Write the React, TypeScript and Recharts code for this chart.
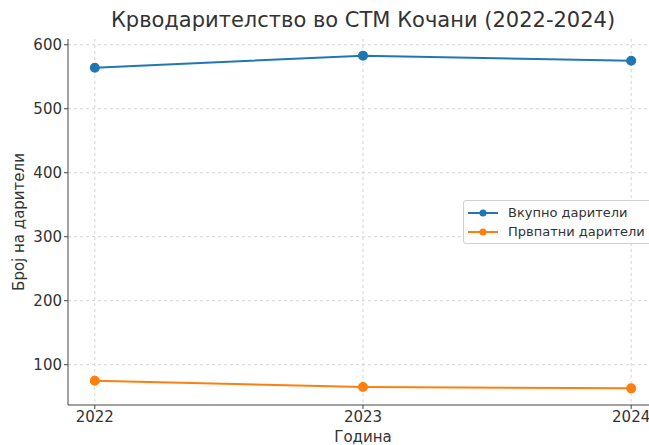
import React from 'react';
import { LineChart, Line, XAxis, YAxis, CartesianGrid } from 'recharts';

const years = [2022, 2023, 2024];
const totalDonors = [564, 583, 575];
const firstTimeDonors = [75, 65, 63];
const yTicks = [100, 200, 300, 400, 500, 600];
const seriesNames = ['Вкупно дарители', 'Првпатни дарители'];

const data = years.map((y, i) => ({ year: y, total: totalDonors[i], first: firstTimeDonors[i] }));

const FONT = '"DejaVu Sans", sans-serif';
const BLUE = '#1f77b4';
const ORANGE = '#ff7f0e';
const colors = [BLUE, ORANGE];

const LegendBox = () => (
  <div
    style={{
      position: 'absolute',
      left: 463,
      top: 200,
      border: '1px solid #d0d0d0',
      borderRadius: 3,
      background: 'rgba(255,255,255,0.85)',
      padding: '2px 8px 2px 4px',
      fontFamily: FONT,
      fontSize: 13,
      color: '#333',
      width: 178,
      whiteSpace: 'nowrap',
    }}
  >
    {seriesNames.map((name, i) => (
      <div key={name} style={{ display: 'flex', alignItems: 'center', height: 19 }}>
        <svg width={36} height={12} style={{ marginRight: 4 }}>
          <line x1={0} y1={6} x2={30} y2={6} stroke={colors[i]} strokeWidth={2} />
          <circle cx={15} cy={6} r={3.5} fill={colors[i]} />
        </svg>
        <span>{name}</span>
      </div>
    ))}
  </div>
);

export default function App() {
  return (
    <div style={{ position: 'absolute', left: 0, top: 0, width: 649, height: 445, overflow: 'hidden', background: '#fff' }}>
      <div
        style={{
          position: 'absolute',
          left: 0,
          width: 726,
          top: 8,
          textAlign: 'center',
          fontFamily: FONT,
          fontSize: 21,
          color: '#333',
          whiteSpace: 'nowrap',
        }}
      >
        Крводарителство во СТМ Кочани (2022-2024)
      </div>
      <LineChart
        width={670}
        height={445}
        data={data}
        margin={{ top: 39, right: 12, bottom: 0, left: 8 }}
        style={{ fontFamily: FONT }}
      >
        <CartesianGrid stroke="#d5d5d5" strokeDasharray="3 3" syncWithTicks />
        <XAxis
          dataKey="year"
          type="number"
          domain={[2021.9, 2024.1]}
          ticks={years}
          allowDataOverflow
          height={40}
          tickSize={4}
          tickMargin={2}
          stroke="#444"
          tick={{ fill: '#333', fontSize: 15 }}
          label={{ value: 'Година', position: 'insideBottom', offset: 3, fill: '#333', fontSize: 15 }}
        />
        <YAxis
          type="number"
          domain={[37, 609]}
          ticks={yTicks}
          allowDataOverflow
          width={60}
          tickSize={4}
          tickMargin={2}
          stroke="#444"
          tick={{ fill: '#333', fontSize: 15 }}
          label={{
            content: () => (
              <text
                x={19}
                y={222}
                transform="rotate(-90 19 222)"
                textAnchor="middle"
                dominantBaseline="middle"
                fill="#333"
                fontSize={15}
                fontFamily={FONT}
              >
                Број на дарители
              </text>
            ),
          }}
        />
        <Line
          dataKey="total"
          name={seriesNames[0]}
          stroke={BLUE}
          strokeWidth={2}
          dot={{ r: 4, fill: BLUE, stroke: BLUE }}
          isAnimationActive={false}
        />
        <Line
          dataKey="first"
          name={seriesNames[1]}
          stroke={ORANGE}
          strokeWidth={2}
          dot={{ r: 4, fill: ORANGE, stroke: ORANGE }}
          isAnimationActive={false}
        />
      </LineChart>
      <LegendBox />
    </div>
  );
}
